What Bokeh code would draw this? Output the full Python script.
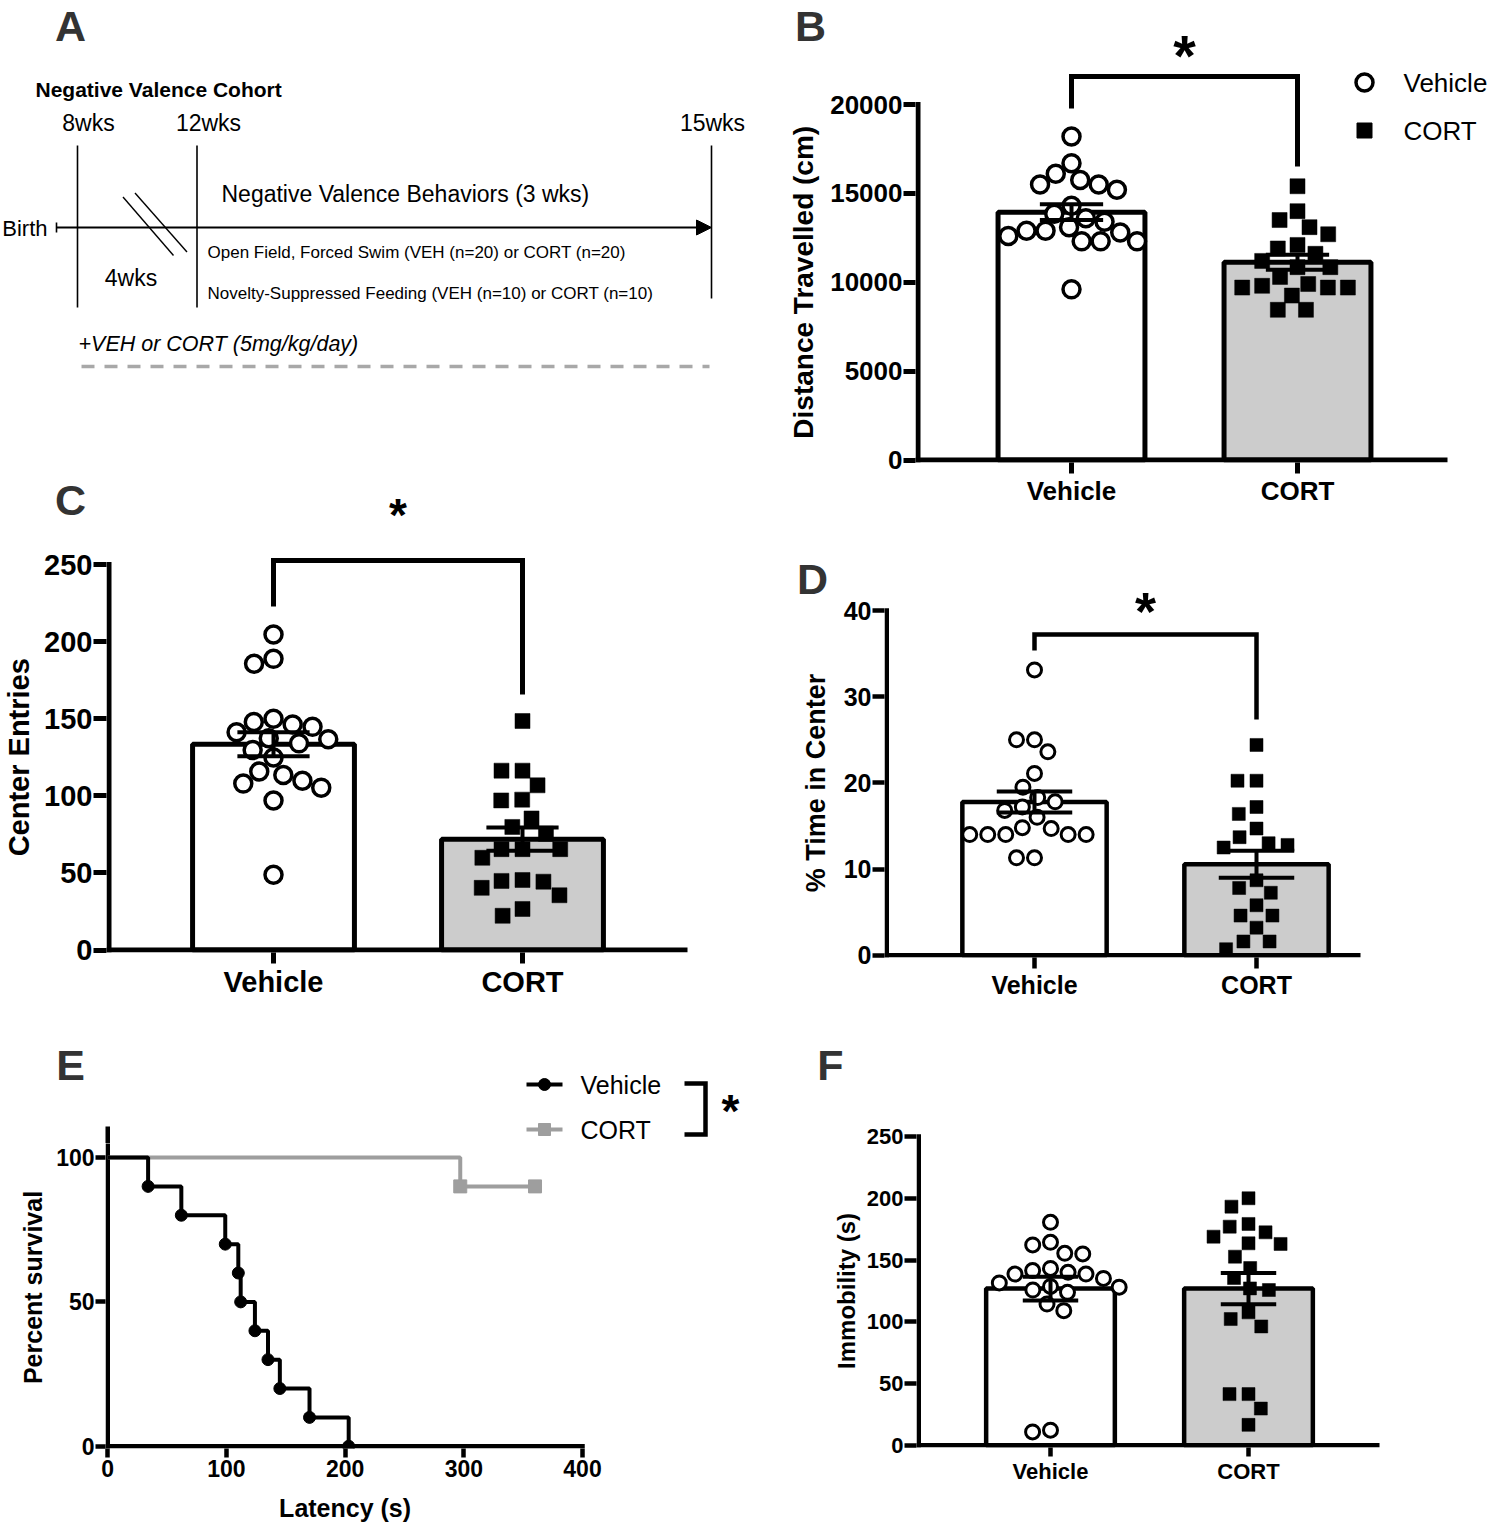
import math
from bokeh.plotting import figure
from bokeh.layouts import row, column
from bokeh.models import Range1d, FixedTicker
from bokeh.core.properties import value
from bokeh.embed import file_html
from bokeh.resources import INLINE

FONT = "Liberation Sans"

# ---------------- data ----------------
GROUPS = ["Vehicle", "CORT"]

# B: open field, distance travelled (cm)
dist_vehicle = [18200, 16700, 16100, 15750, 15500, 15500, 15200, 14300, 13850, 13600,
                13400, 13100, 12900, 12900, 12800, 12600, 12300, 12300, 12300, 9600]
dist_cort = [15400, 14000, 13500, 13100, 12700, 12100, 11900, 11600, 11200, 10850,
             10850, 10300, 9900, 9800, 9700, 9700, 9700, 9250, 8450, 8450]
dist_ticks = [0, 5000, 10000, 15000, 20000]

# C: center entries
entries_vehicle = [204.6, 188.8, 185.7, 150.0, 146.3, 147.8, 144.7, 141.2, 137.4, 136.7,
                   134.0, 129.7, 124.8, 115.7, 113.5, 109.7, 107.9, 105.3, 97.0, 48.8]
entries_cort = [148.5, 116.3, 116.3, 106.8, 97.0, 97.5, 85.3, 79.8, 75.4, 65.4,
                65.4, 65.4, 59.8, 45.4, 44.3, 44.8, 40.3, 35.5, 26.6, 22.2]
entries_ticks = [0, 50, 100, 150, 200, 250]

# D: % time in center
center_vehicle = [33.1, 25.0, 25.0, 23.6, 21.1, 19.5, 18.3, 17.8, 17.2, 16.8,
                  16.0, 14.7, 14.8, 14.0, 14.0, 14.0, 14.0, 14.0, 11.3, 11.3]
center_cort = [24.4, 20.25, 20.25, 17.2, 16.4, 14.7, 13.7, 13.0, 12.8, 12.5,
               8.7, 7.8, 7.25, 5.8, 4.6, 4.6, 3.2, 1.6, 1.6, 0.7]
center_ticks = [0, 10, 20, 30, 40]

# E: novelty-suppressed feeding, survival
nsf_vehicle_t = [0, 34, 62, 99, 110, 112, 124, 135, 145, 170, 203]
nsf_vehicle_s = [100, 90, 80, 70, 60, 50, 40, 30, 20, 10, 0]
nsf_cort_t = [0, 297, 360]
nsf_cort_s = [100, 90, 90]
lat_xticks = [0, 100, 200, 300, 400]
surv_yticks = [0, 50, 100]

# F: forced swim immobility (s)
immob_vehicle = [180.5, 164.3, 162.2, 154.9, 155.4, 141.4, 143.2, 140.0, 138.6, 138.6,
                 135.1, 131.4, 128.6, 128.0, 125.7, 123.8, 114.3, 109.0, 10.8, 12.2]
immob_cort = [200.0, 193.2, 179.2, 177.0, 172.4, 168.9, 163.5, 163.0, 152.7, 143.5,
              135.4, 127.0, 125.7, 107.6, 102.2, 96.2, 41.4, 41.4, 29.7, 16.5]
immob_ticks = [0, 50, 100, 150, 200, 250]

CAT_TICKS = [1, 2]
CAT_LABELS = {1: GROUPS[0], 2: GROUPS[1]}


# ---------------- helpers ----------------
def mean_sem(v):
    n = len(v)
    m = sum(v) / n
    sd = math.sqrt(sum((x - m) ** 2 for x in v) / (n - 1))
    return m, sd / math.sqrt(n)


COMMON = dict(output_backend="svg", toolbar_location=None, title=None, frame_align=False,
              background_fill_color="white", border_fill_color="white")


def text_fig(ox, oy, w, h):
    """A figure whose data space is the page's pixel space (for schematic text)."""
    p = figure(width=w, height=h, x_range=Range1d(ox, ox + w), y_range=Range1d(oy + h, oy),
               x_axis_location=None, y_axis_location=None, min_border=0, **COMMON)
    p.outline_line_color = None
    for g in p.grid:
        g.visible = False
    return p


def chart_fig(ox, oy, w, h, fl, fb, xa, ya):
    fr = ox + w
    kx = (xa[2] - xa[0]) / (xa[3] - xa[1])
    ky = (ya[2] - ya[0]) / (ya[3] - ya[1])

    def xd(px):
        return xa[0] + (px - xa[1]) * kx

    def yd(py):
        return ya[0] + (py - ya[1]) * ky

    p = figure(width=w, height=h, x_range=Range1d(xd(fl), xd(fr)), y_range=Range1d(yd(fb), yd(oy)),
               min_border_left=fl - ox, min_border_right=0, min_border_top=0,
               min_border_bottom=oy + h - fb, **COMMON)
    p.outline_line_color = None
    for g in p.grid:
        g.visible = False
    return p, xd, yd, abs(1 / kx), abs(1 / ky)


def style_axes(p, xticks, yticks, size, lw, xout, yout, xover=None, xstand=2, ystand=1):
    xa, ya = p.xaxis[0], p.yaxis[0]
    for ax in (xa, ya):
        ax.axis_line_color = None
        ax.major_tick_line_color = "black"
        ax.major_tick_line_width = lw
        ax.major_tick_in = 0
        ax.minor_tick_line_color = None
        ax.major_label_text_font = FONT
        ax.major_label_text_font_style = "bold"
        ax.major_label_text_font_size = f"{size}px"
        ax.major_label_text_color = "black"
    xa.ticker = FixedTicker(ticks=xticks)
    xa.major_tick_out = xout
    xa.major_label_standoff = xstand
    if xover:
        xa.major_label_overrides = xover
    ya.ticker = FixedTicker(ticks=yticks)
    ya.major_tick_out = yout
    ya.major_label_standoff = ystand


def axis_lines(p, xd, yd, fl, fb, lw, x_end_px, y_top_val, ppy):
    xline = xd(fl + lw / 2)
    yline = yd(fb - lw / 2)
    ytop = y_top_val + (lw / 2) / ppy
    p.segment(x0=[xline], y0=[yd(fb)], x1=[xline], y1=[ytop], line_width=lw, line_color="black")
    p.segment(x0=[xd(fl)], y0=[yline], x1=[xd(x_end_px)], y1=[yline], line_width=lw, line_color="black")


def swarm(vals, spacing, ppx, ppy):
    placed = []
    offs = [0.0] * len(vals)
    for i in sorted(range(len(vals)), key=lambda k: -vals[k]):
        y = vals[i] * ppy
        cands = [0.0]
        for (xj, yj) in placed:
            dy = abs(y - yj)
            if dy < spacing:
                dx = math.sqrt(spacing ** 2 - dy ** 2)
                cands.extend([xj + dx, xj - dx])
        cands.sort(key=lambda c: (abs(c), c))
        chosen = 0.0
        for c in cands:
            if all((c - xj) ** 2 + (y - yj) ** 2 >= spacing ** 2 - 1e-6 for xj, yj in placed):
                chosen = c
                break
        placed.append((chosen, y))
        offs[i] = chosen / ppx
    return offs


def bar_panel(p, vals_v, vals_c, ppx, ppy, lw, cap, csize, ssize, cw, csp, ssp, err_lw=4):
    mv, sv = mean_sem(vals_v)
    mc, sc = mean_sem(vals_c)
    means = [mv, mc]
    sems = [sv, sc]
    p.vbar(x=CAT_TICKS, width=0.65, bottom=0, top=means,
           fill_color=["white", "#cccccc"], line_color="black", line_width=lw)
    ov = swarm(vals_v, csp, ppx, ppy)
    oc = swarm(vals_c, ssp, ppx, ppy)
    p.scatter(x=[1 + o for o in ov], y=vals_v, marker="circle", size=csize,
              fill_color="white", line_color="black", line_width=cw)
    p.scatter(x=[2 + o for o in oc], y=vals_c, marker="square", size=ssize,
              fill_color="black", line_color="black", line_width=0.5)
    lo = [m - s for m, s in zip(means, sems)]
    hi = [m + s for m, s in zip(means, sems)]
    p.segment(x0=CAT_TICKS, y0=lo, x1=CAT_TICKS, y1=hi, line_width=err_lw, line_color="black")
    for yy in (lo, hi):
        p.segment(x0=[x - cap / 2 for x in CAT_TICKS], y0=yy, x1=[x + cap / 2 for x in CAT_TICKS],
                  y1=yy, line_width=err_lw, line_color="black")


def txt(p, x, y, s, size, style="normal", align="left", baseline="middle", color="black", angle=0.0):
    p.text(x=[x], y=[y], text=[s], text_font=value(FONT), text_font_size=value(f"{size}px"),
           text_font_style=style, text_align=align, text_baseline=baseline,
           text_color=color, angle=angle)


def star(p, x, y_center, size, ydata=None):
    # the asterisk glyph sits ~0.15em above the alphabetic anchor in this renderer
    yy = y_center + 0.15 * size
    txt(p, x, ydata(yy) if ydata else yy, "*", size, style="bold", align="center", baseline="alphabetic")


def letter(p, x, y, s):
    txt(p, x, y, s, 43, style="bold", align="center", color="#333333")


def ylabel(p, x, y, s, size):
    txt(p, x, y, s, size, style="bold", align="center", angle=math.pi / 2)


def bracket(p, yd, ybar_px, left_px, right_px, lw):
    yb = yd(ybar_px)
    p.line(x=[1, 1, 2, 2], y=[yd(left_px), yb, yb, yd(right_px)], line_width=lw,
           line_color="black", line_join="miter")


# ======================= LEFT COLUMN =======================
# ---- panel A (schematic) ----
pA = text_fig(0, 0, 765, 470)
letter(pA, 70, 25, "A")
txt(pA, 35, 89, "Negative Valence Cohort", 21, style="bold")
for s, cx in zip(["8wks", "12wks", "15wks"], [88, 208, 712]):
    txt(pA, cx, 122, s, 23, align="center")
for vx, vb in zip([77, 196.5, 711], [307, 307, 298]):
    pA.segment(x0=[vx], y0=[145], x1=[vx], y1=[vb], line_width=1.6, line_color="black")
pA.segment(x0=[56], y0=[227], x1=[700], y1=[227], line_width=1.8, line_color="black")
pA.patch(x=[696, 711, 696], y=[219.5, 227, 234.5], fill_color="black", line_color="black")
pA.segment(x0=[56], y0=[222], x1=[56], y1=[232], line_width=1.6, line_color="black")
txt(pA, 47, 228, "Birth", 22, align="right")
pA.segment(x0=[122.5, 134.5], y0=[196.5, 192.5], x1=[173, 186.5], y1=[255, 251.5],
           line_width=1.4, line_color="black")
txt(pA, 221, 193, "Negative Valence Behaviors (3 wks)", 23)
txt(pA, 207, 252, "Open Field, Forced Swim (VEH (n=20) or CORT (n=20)", 17)
txt(pA, 130.5, 277, "4wks", 23, align="center")
txt(pA, 207, 293, "Novelty-Suppressed Feeding (VEH (n=10) or CORT (n=10)", 17)
txt(pA, 78, 343, "+VEH or CORT (5mg/kg/day)", 21.5, style="italic")
pA.segment(x0=[81], y0=[366], x1=[709], y1=[366], line_width=3.5, line_color="#a8a8a8",
           line_dash="13 10")

# ---- panel C ----
pCtop = text_fig(0, 470, 765, 77)
letter(pCtop, 70, 499, "C")
star(pCtop, 397.5, 508, 46)

pCside = text_fig(0, 547, 40, 483)
ylabel(pCside, 18, 756.75, "Center Entries", 29)

pC, xdC, ydC, ppxC, ppyC = chart_fig(40, 547, 725, 483, 106, 952, (1, 273, 2, 522), (0, 949.5, 250, 564))
style_axes(pC, CAT_TICKS, entries_ticks, 29, 5, 11, 13, xover=CAT_LABELS)
bar_panel(pC, entries_vehicle, entries_cort, ppxC, ppyC, 5, 0.29, 17, 15, 3.5, 20, 21)
axis_lines(pC, xdC, ydC, 106, 952, 5, 687, 250, ppyC)
bracket(pC, ydC, 560, 606, 694, 5)

# ---- panel E ----
GRAY = "#9e9e9e"
E_SPLIT = 1143
pEtop = text_fig(0, 1030, 765, E_SPLIT - 1030)
letter(pEtop, 70, 1064, "E")
for gname, col, mk, ypx in [(GROUPS[0], "black", "circle", 1084), (GROUPS[1], GRAY, "square", 1129)]:
    pEtop.segment(x0=[526], y0=[ypx], x1=[562], y1=[ypx], line_width=4, line_color=col)
    pEtop.scatter(x=[544], y=[ypx], marker=mk, size=12, fill_color=col, line_color=col)
    txt(pEtop, 580, ypx, gname, 25)
pEtop.line(x=[684, 705, 705, 684], y=[1083, 1083, 1134, 1134], line_width=4.5,
           line_color="black", line_join="miter")
star(pEtop, 730, 1104, 46)

pEside = text_fig(0, E_SPLIT, 53, 1490 - E_SPLIT)
ylabel(pEside, 32, 1287, "Percent survival", 25)

pE, xdE, ydE, ppxE, ppyE = chart_fig(53, E_SPLIT, 712, 1490 - E_SPLIT, 105, 1448,
                                     (0, 107.25, 400, 582), (0, 1445.75, 100, 1157))
style_axes(pE, lat_xticks, surv_yticks, 23, 4.5, 9, 10)
axis_lines(pE, xdE, ydE, 105, 1448, 4.5, 584.25, 110, ppyE)
# upper end of the survival y-axis (above the split line)
y110_px = 1445.75 - 110 * ppyE
pEtop.segment(x0=[107.25], y0=[y110_px - 2.25], x1=[107.25], y1=[E_SPLIT + 1], line_width=4.5,
              line_color="black")
pE.step(x=nsf_cort_t, y=nsf_cort_s, mode="after", line_width=4, line_color=GRAY)
pE.scatter(x=nsf_cort_t[1:], y=nsf_cort_s[1:], marker="square", size=13, fill_color=GRAY, line_color=GRAY)
pE.step(x=nsf_vehicle_t, y=nsf_vehicle_s, mode="after", line_width=4, line_color="black")
pE.scatter(x=nsf_vehicle_t[1:], y=nsf_vehicle_s[1:], marker="circle", size=12,
           fill_color="black", line_color="black")

pEbot = text_fig(0, 1490, 765, 35)
txt(pEbot, 344.6, 1507, "Latency (s)", 25, style="bold", align="center")

# ======================= RIGHT COLUMN =======================
# ---- panel B ----
pBside = text_fig(765, 0, 61, 520)
letter(pBside, 810, 25, "B")
ylabel(pBside, 803, 281.75, "Distance Travelled (cm)", 28)

pB, xdB, ydB, ppxB, ppyB = chart_fig(826, 0, 670, 520, 915, 462, (1, 1071, 2, 1297), (0, 459.5, 20000, 104))
style_axes(pB, CAT_TICKS, dist_ticks, 26, 5, 11, 12, xover=CAT_LABELS)
bar_panel(pB, dist_vehicle, dist_cort, ppxB, ppyB, 5, 0.28, 17, 15, 3.5, 19, 20)
axis_lines(pB, xdB, ydB, 915, 462, 5, 1447, 20000, ppyB)
bracket(pB, ydB, 76, 108, 166, 5)
star(pB, 1.5, 46, 58, ydata=ydB)
pB.scatter(x=[xdB(1364)], y=[ydB(82)], marker="circle", size=17, fill_color="white",
           line_color="black", line_width=3.5)
pB.scatter(x=[xdB(1364)], y=[ydB(130)], marker="square", size=15, fill_color="black", line_color="black")
txt(pB, xdB(1403), ydB(82), GROUPS[0], 26)
txt(pB, xdB(1403), ydB(130), GROUPS[1], 26)

# ---- panel D ----
pDside = text_fig(765, 520, 75, 510)
letter(pDside, 812, 578, "D")
ylabel(pDside, 815, 782.4, "% Time in Center", 27)

pD, xdD, ydD, ppxD, ppyD = chart_fig(840, 520, 656, 510, 884, 957, (1, 1034, 2, 1256), (0, 954.75, 40, 610))
style_axes(pD, CAT_TICKS, center_ticks, 25, 4.5, 11, 12, xover=CAT_LABELS)
bar_panel(pD, center_vehicle, center_cort, ppxD, ppyD, 4.5, 0.34, 14, 13, 3, 18, 19)
axis_lines(pD, xdD, ydD, 884, 957, 4.5, 1360, 40, ppyD)
bracket(pD, ydD, 634, 650, 719, 4.5)
star(pD, 1.5, 602, 54, ydata=ydD)

# ---- panel F ----
pFside = text_fig(765, 1030, 97, 495)
letter(pFside, 830, 1064, "F")
ylabel(pFside, 846, 1290.4, "Immobility (s)", 24)

pF, xdF, ydF, ppxF, ppyF = chart_fig(862, 1030, 634, 495, 916, 1447, (1, 1050, 2, 1248), (0, 1444.75, 250, 1136))
style_axes(pF, CAT_TICKS, immob_ticks, 22, 4.5, 9, 12, xover=CAT_LABELS)
bar_panel(pF, immob_vehicle, immob_cort, ppxF, ppyF, 4.5, 0.28, 14, 13, 3, 18, 19)
axis_lines(pF, xdF, ydF, 916, 1447, 4.5, 1379, 250, ppyF)

left = column(pA, pCtop, row(pCside, pC), pEtop, row(pEside, pE), pEbot)
right = column(row(pBside, pB), row(pDside, pD), row(pFside, pF))
layout = row(left, right)
open("out.html", "w").write(file_html(layout, INLINE))
